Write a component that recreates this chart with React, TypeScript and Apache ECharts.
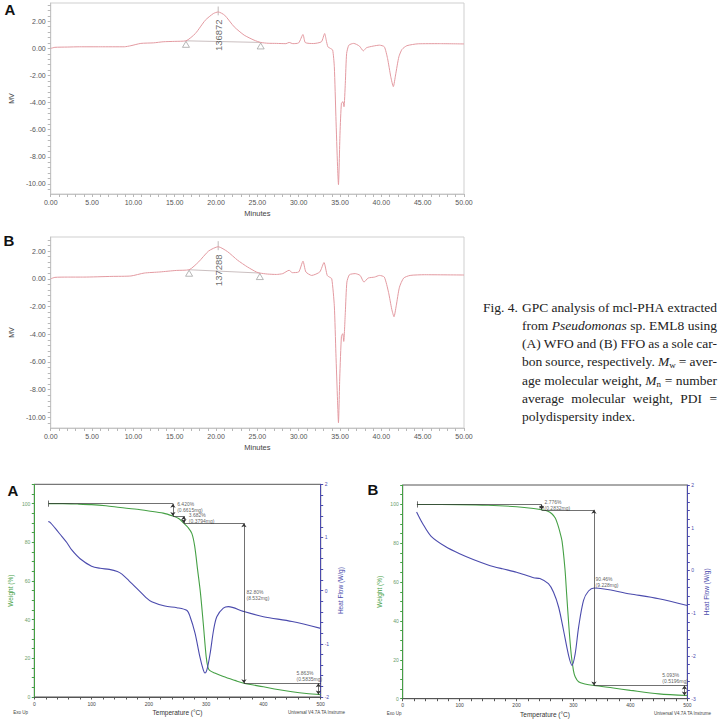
import React, { useEffect, useRef } from "react";
import * as echarts from "echarts";

type Pt = [number, number];

// ---------- GPC chromatograms: retention time (min), response (mV) ----------
const gpcWFO: Pt[] = [
  [0, 0.0], [0.5, 0.08], [2, 0.1], [3.5, 0.12], [6, 0.12], [8.9, 0.12], [9.7, 0.2],
  [10.9, 0.37], [12.45, 0.41], [13.6, 0.49], [15, 0.52], [16.36, 0.56], [17.5, 1.1],
  [18.7, 2.08], [19.67, 2.57], [20.26, 2.69], [21.04, 2.45], [22.2, 1.59], [23.4, 0.98],
  [24.6, 0.61], [25.4, 0.44], [26.3, 0.38], [27.3, 0.37], [28.45, 0.35], [28.84, 0.44],
  [29.3, 0.35], [30.0, 0.41], [30.52, 1.03], [30.8, 0.43], [31.77, 0.36], [32.75, 0.49],
  [33.14, 1.1], [33.33, 0.61], [33.53, 0.12], [33.84, 0.0], [34.11, -0.12], [34.31, -1.35],
  [34.5, -5.03], [34.7, -8.7], [34.81, -10.05], [35.0, -6.25], [35.17, -4.04], [35.36, -3.93],
  [35.48, -4.3], [35.64, -2.57], [35.8, -0.37], [36.07, 0.24], [36.65, 0.37], [37.35, 0.17],
  [37.82, -0.18], [38.2, 0.05], [39.0, 0.17], [39.77, 0.24], [40.36, 0.12], [40.75, -0.74],
  [41.14, -2.09], [41.45, -2.82], [41.72, -1.96], [42.12, -0.62], [42.5, -0.07], [43.09, 0.2],
  [44.46, 0.34], [47, 0.35], [50, 0.33],
];

const gpcFFO: Pt[] = [
  [0, 0.0], [0.5, 0.1], [2, 0.12], [4, 0.12], [7.4, 0.17], [9.7, 0.2], [11.3, 0.41],
  [13.2, 0.49], [15.2, 0.6], [16.74, 0.65], [17.9, 1.22], [19.1, 2.0], [20.26, 2.31],
  [21.4, 1.95], [22.6, 1.34], [23.8, 0.85], [24.9, 0.48], [25.3, 0.41], [26.2, 0.34],
  [27.3, 0.31], [28.07, 0.37], [28.84, 0.61], [29.23, 0.44], [30.0, 0.49], [30.52, 1.27],
  [30.87, 0.49], [31.57, 0.24], [32.55, 0.49], [33.06, 1.17], [33.45, 0.24], [33.72, 0.12],
  [34.0, 0.0], [34.31, -1.95], [34.5, -5.37], [34.7, -8.79], [34.81, -10.38], [34.97, -7.08],
  [35.17, -4.15], [35.33, -3.96], [35.45, -4.52], [35.64, -2.44], [35.83, -0.24], [36.14, 0.29],
  [36.84, 0.37], [37.43, 0.24], [37.9, -0.24], [38.4, 0.05], [39.18, 0.12], [39.77, 0.24],
  [40.36, 0.12], [40.87, -0.98], [41.26, -2.2], [41.53, -2.74], [41.8, -1.95], [42.19, -0.61],
  [42.7, 0.05], [43.48, 0.24], [45.23, 0.29], [50, 0.27],
];

// integration baselines of the polymer peak (start / end markers)
const gpcWFOBaseline: Pt[] = [[16.36, 0.56], [25.4, 0.44]];
const gpcFFOBaseline: Pt[] = [[16.74, 0.65], [25.3, 0.41]];

// polymer peak apex and reported molecular weight
const peakTimes = [20.26, 20.26];
const peakApexMv = [2.69, 2.31];
const peakMw = ["136872", "137288"];
const peakLabelMv = [0.97, 0.61];

const gpcTimeTicks = [0, 5, 10, 15, 20, 25, 30, 35, 40, 45, 50];
const gpcMvTicks = [-10, -8, -6, -4, -2, 0, 2];

// ---------- TGA / DSC: temperature (°C), weight (%), heat flow (W/g) ----------
const tgaWeightWFO: Pt[] = [
  [25, 100], [50, 100], [75, 99.8], [100, 99.5], [125, 98.9], [150, 98.0], [175, 97.2],
  [200, 96.2], [225, 95.1], [242, 93.58], [252, 92.3], [261, 89.9], [268, 87.8], [275, 84.6],
  [280, 78], [285, 66], [290, 54], [295, 38], [300, 21], [303, 15.5], [306, 13.8], [315, 12.4],
  [330, 10.6], [350, 8.6], [366, 7.1], [400, 5.3], [425, 3.9], [450, 2.7], [475, 1.8], [500, 1.24],
];
const tgaHeatWFO: Pt[] = [
  [24.4, 1.3], [28, 1.28], [36, 1.18], [48, 1.02], [57, 0.9], [65, 0.77], [80, 0.6], [100, 0.46],
  [115, 0.42], [131, 0.4], [145, 0.36], [153, 0.31], [165, 0.19], [182, 0.01], [195, -0.13],
  [205, -0.21], [228, -0.29], [249, -0.32], [266, -0.37], [272, -0.49], [280.6, -0.8],
  [289, -1.24], [295, -1.49], [298, -1.55], [302, -1.46], [307, -1.18], [313, -0.74],
  [318.6, -0.49], [330, -0.33], [339, -0.3], [365, -0.39], [400, -0.49], [450, -0.58], [500, -0.71],
];
const tgaWeightFFO: Pt[] = [
  [25, 100], [100, 99.9], [150, 99.6], [200, 98.8], [230, 97.9], [244, 97.22], [255, 96.5],
  [262, 95.2], [268, 93], [272, 90], [276, 86], [280, 81], [285, 67], [288, 54], [292, 37],
  [296, 23], [300, 14.5], [303, 11.3], [309, 8.7], [320, 7.6], [336, 6.76], [370, 5.5],
  [400, 4.3], [450, 2.5], [500, 1.67],
];
const tgaHeatFFO: Pt[] = [
  [24.4, 1.37], [35, 1.1], [50, 0.8], [75, 0.56], [100, 0.39], [125, 0.25], [150, 0.13],
  [175, 0.04], [200, -0.04], [230, -0.17], [241, -0.19], [256, -0.31], [265, -0.51], [274, -0.86],
  [282.7, -1.41], [291.5, -1.99], [297.4, -2.22], [303, -1.95], [309, -1.33], [317.7, -0.7],
  [326.5, -0.48], [336.6, -0.41], [400, -0.55], [450, -0.66], [500, -0.82],
];

// weight-loss steps
const stepTempWFO = [242, 261, 366, 496];
const stepLossWFO = ["6.420", "3.682", "82.80", "5.863"];
const stepMassWFO = ["0.6615", "0.3794", "8.532", "0.5835"];
const stepTextAtWFO: Pt[] = [[248.6, 98.5], [268.9, 92.6], [369.6, 52.9], [456.9, 10.8]];

const stepTempFFO = [244, 336, 495];
const stepLossFFO = ["2.776", "90.46", "5.093"];
const stepMassFFO = ["0.2832", "9.228", "0.5196"];
const stepTextAtFFO: Pt[] = [[248.3, 99.9], [338, 60.2], [455.2, 10.75]];

const tgaTempTicks = [0, 100, 200, 300, 400, 500];
const tgaWeightTicks = [0, 20, 40, 60, 80, 100];
const tgaHeatTicksWFO = [-2, -1, 0, 1, 2];
const tgaHeatTicksFFO = [-3, -2, -1, 0, 1, 2];

// ---------- caption ----------
const captionLead = "Fig. 4.";
const captionLines = [
  "GPC analysis of mcl-PHA extracted",
  "from _Pseudomonas_ sp. EML8 using",
  "(A) WFO and (B) FFO as a sole car-",
  "bon source, respectively. _M_~w~ = aver-",
  "age molecular weight, _M_~n~ = number",
  "average molecular weight, PDI =",
  "polydispersity index.",
];

const SANS = '"Liberation Sans", Arial, sans-serif';
const SERIF = '"Liberation Serif", "Times New Roman", serif';
const GREEN = "#45a045";
const BLUE = "#4b4bad";
const PINK = "#e39aa1";

const range = (a: number, b: number, step: number) => {
  const out: number[] = [];
  for (let v = a; v <= b + 1e-9; v += step) out.push(+v.toFixed(3));
  return out;
};

const levelsFrom = (losses: string[]) => {
  const lv = [100];
  losses.forEach((l) => lv.push(lv[lv.length - 1] - parseFloat(l)));
  return lv;
};

function stepMarks(temps: number[], levels: number[], startT: number, endT: number) {
  const plain = (a: Pt, b: Pt) => [{ coord: a, symbol: "none" }, { coord: b, symbol: "none" }];
  const arrow = (a: Pt, b: Pt) => [{ coord: a, symbol: "arrow" }, { coord: b, symbol: "arrow" }];
  const out: any[] = [
    plain([startT, levels[0]], [temps[0], levels[0]]),
    plain([startT, levels[0] - 1.6], [startT, levels[0] + 1.6]),
  ];
  temps.forEach((t, i) => {
    out.push(arrow([t, levels[i]], [t, levels[i + 1]]));
    if (i < temps.length - 1) {
      const to = i + 1 === temps.length - 1 ? endT : temps[i + 1];
      out.push(plain([t, levels[i + 1]], [to, levels[i + 1]]));
    }
  });
  return out;
}

function gpcAxes(gridIndex: number, min: number, max: number) {
  const x = {
    type: "value", gridIndex, min: 0, max: 50,
    axisLine: { onZero: false, lineStyle: { color: "#c4c4c4" } },
    axisTick: { show: true, length: 3, customValues: range(0, 50, 1), lineStyle: { color: "#b8b8b8" } },
    axisLabel: { customValues: gpcTimeTicks, fontSize: 7, color: "#555", margin: 5, fontFamily: SANS, formatter: (v: number) => v.toFixed(2) },
    splitLine: { show: false },
    name: "Minutes", nameLocation: "middle", nameGap: 15,
    nameTextStyle: { fontSize: 7.5, color: "#444", fontFamily: SANS },
  };
  const y = {
    type: "value", gridIndex, min, max,
    axisLine: { show: true, onZero: false, lineStyle: { color: "#c4c4c4" } },
    axisTick: { show: true, length: 3, customValues: range(-10.4, 3.2, 0.4).filter((v) => v >= min && v <= max), lineStyle: { color: "#b8b8b8" } },
    axisLabel: { customValues: gpcMvTicks, fontSize: 7, color: "#555", margin: 5, fontFamily: SANS, formatter: (v: number) => v.toFixed(2) },
    splitLine: { show: false },
    name: "MV", nameLocation: "middle", nameGap: 24,
    nameTextStyle: { fontSize: 7, color: "#444", fontFamily: SANS },
  };
  return { x, y };
}

function tgaAxes(gridIndex: number, heatMin: number, heatTicks: number[]) {
  const x = {
    type: "value", gridIndex, min: 0, max: 500,
    axisLine: { onZero: false, lineStyle: { color: "#555" } },
    axisTick: { show: true, length: 2.5, customValues: range(0, 500, 20), lineStyle: { color: "#555" } },
    axisLabel: { customValues: tgaTempTicks, fontSize: 5, color: "#444", margin: 4, fontFamily: SANS },
    splitLine: { show: false },
    name: "Temperature (°C)", nameLocation: "middle", nameGap: 12,
    nameTextStyle: { fontSize: 6.5, color: "#333", fontFamily: SANS },
  };
  const yW = {
    type: "value", gridIndex, min: 0, max: 110, position: "left",
    axisLine: { show: true, onZero: false, lineStyle: { color: GREEN } },
    axisTick: { show: true, length: 2.5, customValues: range(0, 110, 5), lineStyle: { color: GREEN } },
    axisLabel: { customValues: tgaWeightTicks, fontSize: 5, color: "#6a9d6a", margin: 4, fontFamily: SANS },
    splitLine: { show: false },
    name: "Weight (%)", nameLocation: "middle", nameGap: 20,
    nameTextStyle: { fontSize: 6.5, color: GREEN, fontFamily: SANS },
  };
  const yH = {
    type: "value", gridIndex, min: heatMin, max: 2, position: "right",
    axisLine: { show: true, onZero: false, lineStyle: { color: BLUE } },
    axisTick: { show: true, length: 2.5, customValues: range(heatMin, 2, 0.2), lineStyle: { color: BLUE } },
    axisLabel: { customValues: heatTicks, fontSize: 5, color: BLUE, margin: 4, fontFamily: SANS },
    splitLine: { show: false },
    name: "Heat Flow (W/g)", nameLocation: "middle", nameGap: 16,
    nameTextStyle: { fontSize: 6.5, color: BLUE, fontFamily: SANS },
  };
  return { x, yW, yH };
}

function gpcSeries(xi: number, yi: number, curve: Pt[], base: Pt[], k: number) {
  return [
    {
      type: "line", xAxisIndex: xi, yAxisIndex: yi, data: curve, showSymbol: false,
      smooth: 0.2, lineStyle: { color: PINK, width: 1 }, silent: true, z: 3,
    },
    {
      type: "line", xAxisIndex: xi, yAxisIndex: yi, data: base, showSymbol: false,
      lineStyle: { color: "#bcaeb0", width: 0.8 }, silent: true, z: 2,
    },
    {
      type: "line", xAxisIndex: xi, yAxisIndex: yi, showSymbol: false, silent: true,
      data: [[peakTimes[k], peakApexMv[k] - 0.25], [peakTimes[k], peakApexMv[k] + 0.4]],
      lineStyle: { color: "#b0a8a8", width: 0.8 }, z: 2,
    },
    {
      type: "scatter", xAxisIndex: xi, yAxisIndex: yi, data: base, silent: true,
      symbol: "triangle", symbolSize: [7, 6], symbolOffset: [0, 3.5],
      itemStyle: { color: "rgba(255,255,255,0)", borderColor: "#8f8f8f", borderWidth: 0.8 }, z: 4,
    },
    {
      type: "scatter", xAxisIndex: xi, yAxisIndex: yi, silent: true,
      data: [[peakTimes[k], peakLabelMv[k]]], symbolSize: 1,
      itemStyle: { color: "rgba(0,0,0,0)" },
      label: {
        show: true, position: "inside", rotate: 90, formatter: () => peakMw[k],
        fontSize: 9.5, color: "#444", fontFamily: SANS,
      }, z: 5,
    },
  ];
}

function tgaSeries(xi: number, yW: number, yH: number, weight: Pt[], heat: Pt[],
  temps: number[], losses: string[], masses: string[], textAt: Pt[]) {
  const levels = levelsFrom(losses);
  const texts = losses.map((l, i) => `${l}%\n(${masses[i]}mg)`);
  return [
    {
      type: "line", xAxisIndex: xi, yAxisIndex: yW, data: weight, showSymbol: false,
      smooth: 0.3, lineStyle: { color: GREEN, width: 1.1 }, silent: true, z: 3,
      markLine: {
        silent: true, symbolSize: 4, animation: false,
        label: { show: false },
        lineStyle: { color: "#333", width: 0.7, type: "solid" },
        emphasis: { disabled: true },
        data: stepMarks(temps, levels, 25, 500),
      },
    },
    {
      type: "line", xAxisIndex: xi, yAxisIndex: yH, data: heat, showSymbol: false,
      smooth: 0.3, lineStyle: { color: BLUE, width: 1.1 }, silent: true, z: 3,
    },
    {
      type: "scatter", xAxisIndex: xi, yAxisIndex: yW, silent: true, data: textAt,
      symbolSize: 1, itemStyle: { color: "rgba(0,0,0,0)" },
      label: {
        show: true, position: "right", distance: 0,
        formatter: (p: any) => texts[p.dataIndex],
        fontSize: 5, lineHeight: 6, color: "#333", fontFamily: SANS,
      }, z: 5,
    },
  ];
}

function parseWord(w: string) {
  const pieces: { t: string; italic: boolean; sub: boolean }[] = [];
  let italic = false;
  let sub = false;
  let buf = "";
  const flush = () => {
    if (buf) pieces.push({ t: buf, italic, sub });
    buf = "";
  };
  for (const ch of w) {
    if (ch === "_") { flush(); italic = !italic; }
    else if (ch === "~") { flush(); sub = !sub; }
    else buf += ch;
  }
  flush();
  return pieces;
}

function captionElements() {
  const ctx = document.createElement("canvas").getContext("2d") as CanvasRenderingContext2D;
  const measure = (t: string, fs: number, italic: boolean) => {
    ctx.font = `${italic ? "italic " : ""}${fs}px ${SERIF}`;
    return ctx.measureText(t).width;
  };
  const size = 13.5;
  const subSize = 9;
  const x0 = 522;
  const x1 = 717;
  const y0 = 307;
  const lh = 18.3;
  const text = (t: string, x: number, y: number, italic: boolean, fs: number, align = "left") => ({
    type: "text", x, y, silent: true,
    style: {
      text: t, fontFamily: SERIF, fontSize: fs, fontStyle: italic ? "italic" : "normal",
      fill: "#222", align, verticalAlign: "middle",
    },
  });
  const els: any[] = [text(captionLead, 518, y0, false, size, "right")];
  captionLines.forEach((line, li) => {
    const y = y0 + li * lh;
    const words = line.split(" ").map(parseWord);
    const widths = words.map((ps) => ps.reduce((s, p) => s + measure(p.t, p.sub ? subSize : size, p.italic), 0));
    const total = widths.reduce((a, b) => a + b, 0);
    const justify = li < captionLines.length - 1 && words.length > 1;
    const gap = justify ? (x1 - x0 - total) / (words.length - 1) : measure(" ", size, false);
    let x = x0;
    words.forEach((ps, wi) => {
      let px = x;
      ps.forEach((p) => {
        const fs = p.sub ? subSize : size;
        els.push(text(p.t, px, p.sub ? y + 3.5 : y, p.italic, fs));
        px += measure(p.t, fs, p.italic);
      });
      x += widths[wi] + gap;
    });
  });
  return els;
}

function buildOption() {
  const gA = gpcAxes(0, -10.74, 3.35);
  const gB = gpcAxes(1, -10.76, 3.01);
  const tA = tgaAxes(2, -2, tgaHeatTicksWFO);
  const tB = tgaAxes(3, -3, tgaHeatTicksFFO);

  const panelLabel = (t: string, x: number, y: number) => ({
    type: "text", x, y, silent: true,
    style: { text: t, fontFamily: SANS, fontSize: 15, fontWeight: "bold", fill: "#111", align: "center", verticalAlign: "middle" },
  });
  const tiny = (t: string, x: number, y: number) => ({
    type: "text", x, y, silent: true,
    style: { text: t, fontFamily: SANS, fontSize: 4.5, fill: "#444", align: "center", verticalAlign: "middle" },
  });

  return {
    animation: false,
    backgroundColor: "#ffffff",
    textStyle: { fontFamily: SANS },
    grid: [
      { left: 37, top: 3, width: 427, height: 191, show: true, borderColor: "#cfcfcf", borderWidth: 1 },
      { left: 37, top: 237, width: 427, height: 191, show: true, borderColor: "#cfcfcf", borderWidth: 1 },
      { left: 34.3, top: 484.3, width: 286.4, height: 212.7, show: true, borderColor: "#555", borderWidth: 1 },
      { left: 402.7, top: 485, width: 284.6, height: 213.7, show: true, borderColor: "#555", borderWidth: 1 },
    ],
    xAxis: [gA.x, gB.x, tA.x, tB.x],
    yAxis: [gA.y, gB.y, tA.yW, tA.yH, tB.yW, tB.yH],
    series: [
      ...gpcSeries(0, 0, gpcWFO, gpcWFOBaseline, 0),
      ...gpcSeries(1, 1, gpcFFO, gpcFFOBaseline, 1),
      ...tgaSeries(2, 2, 3, tgaWeightWFO, tgaHeatWFO, stepTempWFO, stepLossWFO, stepMassWFO, stepTextAtWFO),
      ...tgaSeries(3, 4, 5, tgaWeightFFO, tgaHeatFFO, stepTempFFO, stepLossFFO, stepMassFFO, stepTextAtFFO),
    ],
    graphic: [
      panelLabel("A", 10, 9),
      panelLabel("B", 9, 240),
      panelLabel("A", 13, 490),
      panelLabel("B", 373, 489),
      tiny("Exo Up", 20.5, 712),
      tiny("Universal V4.7A TA Instrume", 316.5, 712),
      tiny("Exo Up", 394, 713),
      tiny("Universal V4.7A TA Instrume", 682.5, 713),
      ...captionElements(),
    ],
  };
}

export default function App() {
  const ref = useRef<HTMLDivElement>(null);
  useEffect(() => {
    const el = ref.current;
    if (!el) return;
    const chart = echarts.init(el, null, { renderer: "svg" });
    chart.setOption(buildOption() as any);
    return () => chart.dispose();
  }, []);
  return (
    <div
      ref={ref}
      style={{ position: "fixed", left: 0, top: 0, width: 720, height: 720, background: "#fff" }}
    />
  );
}
